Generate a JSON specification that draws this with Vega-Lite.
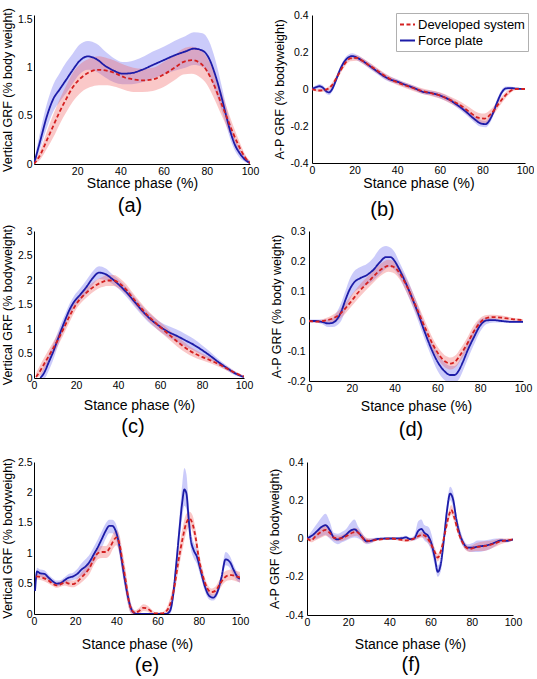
{
"$schema": "https://vega.github.io/schema/vega-lite/v6.json",
"background": "white",
"padding": {"left": 1, "top": 7, "right": 0, "bottom": 0},
"datasets": {
"a": [
{"s":"F","x":0,"y":0,"lo":0,"hi":0.02},{"s":"F","x":3,"y":0.25,"lo":0.17,"hi":0.35},{"s":"F","x":6,"y":0.5,"lo":0.38,"hi":0.63},{"s":"F","x":9,"y":0.68,"lo":0.55,"hi":0.83},{"s":"F","x":12,"y":0.78,"lo":0.65,"hi":0.95},{"s":"F","x":15,"y":0.88,"lo":0.74,"hi":1.06},{"s":"F","x":18,"y":0.98,"lo":0.84,"hi":1.15},{"s":"F","x":21,"y":1.07,"lo":0.93,"hi":1.24},{"s":"F","x":25,"y":1.12,"lo":0.98,"hi":1.28},{"s":"F","x":29,"y":1.09,"lo":0.96,"hi":1.25},{"s":"F","x":33,"y":1.02,"lo":0.9,"hi":1.17},{"s":"F","x":37,"y":0.97,"lo":0.85,"hi":1.1},{"s":"F","x":41,"y":0.94,"lo":0.83,"hi":1.06},{"s":"F","x":45,"y":0.945,"lo":0.83,"hi":1.07},{"s":"F","x":50,"y":0.98,"lo":0.85,"hi":1.11},{"s":"F","x":55,"y":1.03,"lo":0.89,"hi":1.17},{"s":"F","x":60,"y":1.08,"lo":0.93,"hi":1.22},{"s":"F","x":65,"y":1.13,"lo":0.97,"hi":1.28},{"s":"F","x":70,"y":1.17,"lo":1.0,"hi":1.33},{"s":"F","x":74,"y":1.2,"lo":1.03,"hi":1.37},{"s":"F","x":78,"y":1.18,"lo":1.01,"hi":1.36},{"s":"F","x":81,"y":1.1,"lo":0.93,"hi":1.28},{"s":"F","x":84,"y":0.92,"lo":0.75,"hi":1.08},{"s":"F","x":87,"y":0.68,"lo":0.55,"hi":0.8},{"s":"F","x":89,"y":0.5,"lo":0.4,"hi":0.6},{"s":"F","x":91,"y":0.33,"lo":0.25,"hi":0.42},{"s":"F","x":93,"y":0.2,"lo":0.14,"hi":0.27},{"s":"F","x":95,"y":0.12,"lo":0.07,"hi":0.17},{"s":"F","x":97,"y":0.06,"lo":0.03,"hi":0.1},{"s":"F","x":100,"y":0.01,"lo":0,"hi":0.03},
{"s":"D","x":0,"y":0,"lo":0,"hi":0.02},{"s":"D","x":3,"y":0.1,"lo":0.05,"hi":0.15},{"s":"D","x":6,"y":0.25,"lo":0.16,"hi":0.34},{"s":"D","x":9,"y":0.4,"lo":0.28,"hi":0.52},{"s":"D","x":12,"y":0.55,"lo":0.42,"hi":0.68},{"s":"D","x":15,"y":0.68,"lo":0.54,"hi":0.82},{"s":"D","x":18,"y":0.8,"lo":0.65,"hi":0.95},{"s":"D","x":22,"y":0.9,"lo":0.75,"hi":1.05},{"s":"D","x":26,"y":0.96,"lo":0.8,"hi":1.1},{"s":"D","x":30,"y":0.98,"lo":0.82,"hi":1.12},{"s":"D","x":34,"y":0.97,"lo":0.82,"hi":1.1},{"s":"D","x":38,"y":0.94,"lo":0.8,"hi":1.07},{"s":"D","x":42,"y":0.9,"lo":0.77,"hi":1.03},{"s":"D","x":46,"y":0.88,"lo":0.75,"hi":1.0},{"s":"D","x":50,"y":0.87,"lo":0.75,"hi":0.99},{"s":"D","x":55,"y":0.88,"lo":0.76,"hi":1.0},{"s":"D","x":60,"y":0.93,"lo":0.8,"hi":1.06},{"s":"D","x":65,"y":1.0,"lo":0.87,"hi":1.13},{"s":"D","x":69,"y":1.06,"lo":0.93,"hi":1.2},{"s":"D","x":73,"y":1.08,"lo":0.94,"hi":1.22},{"s":"D","x":77,"y":1.05,"lo":0.9,"hi":1.19},{"s":"D","x":80,"y":0.97,"lo":0.83,"hi":1.11},{"s":"D","x":83,"y":0.84,"lo":0.7,"hi":0.98},{"s":"D","x":86,"y":0.67,"lo":0.55,"hi":0.8},{"s":"D","x":89,"y":0.5,"lo":0.4,"hi":0.6},{"s":"D","x":92,"y":0.33,"lo":0.25,"hi":0.41},{"s":"D","x":95,"y":0.18,"lo":0.12,"hi":0.24},{"s":"D","x":98,"y":0.06,"lo":0.03,"hi":0.09},{"s":"D","x":100,"y":0.01,"lo":0,"hi":0.03}
],
"b": [
{"s":"F","x":0,"y":0,"lo":-0.01,"hi":0.01},{"s":"F","x":2,"y":0.01,"lo":0.0,"hi":0.02},{"s":"F","x":3.5,"y":0.015,"lo":0.003,"hi":0.027},{"s":"F","x":5,"y":0.008,"lo":-0.005,"hi":0.02},{"s":"F","x":7,"y":-0.015,"lo":-0.028,"hi":-0.002},{"s":"F","x":8,"y":-0.018,"lo":-0.032,"hi":-0.004},{"s":"F","x":9.5,"y":0,"lo":-0.015,"hi":0.015},{"s":"F","x":11,"y":0.04,"lo":0.025,"hi":0.055},{"s":"F","x":13,"y":0.1,"lo":0.085,"hi":0.115},{"s":"F","x":15,"y":0.145,"lo":0.13,"hi":0.16},{"s":"F","x":17,"y":0.17,"lo":0.155,"hi":0.185},{"s":"F","x":19,"y":0.178,"lo":0.163,"hi":0.193},{"s":"F","x":21,"y":0.17,"lo":0.155,"hi":0.185},{"s":"F","x":24,"y":0.15,"lo":0.135,"hi":0.165},{"s":"F","x":27,"y":0.125,"lo":0.11,"hi":0.14},{"s":"F","x":30,"y":0.1,"lo":0.085,"hi":0.115},{"s":"F","x":33,"y":0.075,"lo":0.06,"hi":0.09},{"s":"F","x":36,"y":0.055,"lo":0.04,"hi":0.07},{"s":"F","x":40,"y":0.04,"lo":0.027,"hi":0.053},{"s":"F","x":44,"y":0.022,"lo":0.01,"hi":0.034},{"s":"F","x":48,"y":0.005,"lo":-0.007,"hi":0.017},{"s":"F","x":52,"y":-0.015,"lo":-0.027,"hi":-0.003},{"s":"F","x":56,"y":-0.022,"lo":-0.035,"hi":-0.01},{"s":"F","x":60,"y":-0.035,"lo":-0.05,"hi":-0.02},{"s":"F","x":64,"y":-0.055,"lo":-0.07,"hi":-0.04},{"s":"F","x":68,"y":-0.085,"lo":-0.1,"hi":-0.07},{"s":"F","x":72,"y":-0.12,"lo":-0.137,"hi":-0.103},{"s":"F","x":76,"y":-0.16,"lo":-0.178,"hi":-0.142},{"s":"F","x":79,"y":-0.185,"lo":-0.203,"hi":-0.167},{"s":"F","x":81.5,"y":-0.19,"lo":-0.207,"hi":-0.173},{"s":"F","x":83,"y":-0.175,"lo":-0.193,"hi":-0.157},{"s":"F","x":85,"y":-0.13,"lo":-0.148,"hi":-0.112},{"s":"F","x":87,"y":-0.07,"lo":-0.088,"hi":-0.052},{"s":"F","x":89,"y":-0.02,"lo":-0.035,"hi":-0.005},{"s":"F","x":91,"y":0.003,"lo":-0.008,"hi":0.014},{"s":"F","x":93,"y":0.005,"lo":-0.003,"hi":0.013},{"s":"F","x":96,"y":0.002,"lo":-0.004,"hi":0.008},{"s":"F","x":100,"y":0,"lo":-0.004,"hi":0.004},
{"s":"D","x":0,"y":0,"lo":-0.005,"hi":0.005},{"s":"D","x":3,"y":-0.008,"lo":-0.015,"hi":0.0},{"s":"D","x":6,"y":-0.005,"lo":-0.013,"hi":0.003},{"s":"D","x":9,"y":0.015,"lo":0.003,"hi":0.027},{"s":"D","x":12,"y":0.07,"lo":0.055,"hi":0.085},{"s":"D","x":15,"y":0.13,"lo":0.115,"hi":0.145},{"s":"D","x":18,"y":0.165,"lo":0.15,"hi":0.18},{"s":"D","x":21,"y":0.168,"lo":0.153,"hi":0.183},{"s":"D","x":24,"y":0.15,"lo":0.135,"hi":0.165},{"s":"D","x":28,"y":0.12,"lo":0.105,"hi":0.135},{"s":"D","x":32,"y":0.088,"lo":0.073,"hi":0.103},{"s":"D","x":36,"y":0.058,"lo":0.043,"hi":0.073},{"s":"D","x":40,"y":0.036,"lo":0.022,"hi":0.05},{"s":"D","x":45,"y":0.015,"lo":0.0,"hi":0.03},{"s":"D","x":50,"y":-0.005,"lo":-0.02,"hi":0.01},{"s":"D","x":55,"y":-0.02,"lo":-0.035,"hi":-0.005},{"s":"D","x":60,"y":-0.035,"lo":-0.052,"hi":-0.018},{"s":"D","x":65,"y":-0.06,"lo":-0.078,"hi":-0.042},{"s":"D","x":70,"y":-0.09,"lo":-0.11,"hi":-0.07},{"s":"D","x":74,"y":-0.125,"lo":-0.15,"hi":-0.1},{"s":"D","x":78,"y":-0.155,"lo":-0.182,"hi":-0.128},{"s":"D","x":81,"y":-0.16,"lo":-0.187,"hi":-0.133},{"s":"D","x":84,"y":-0.135,"lo":-0.16,"hi":-0.11},{"s":"D","x":87,"y":-0.09,"lo":-0.11,"hi":-0.07},{"s":"D","x":90,"y":-0.045,"lo":-0.062,"hi":-0.028},{"s":"D","x":93,"y":-0.012,"lo":-0.024,"hi":0.0},{"s":"D","x":96,"y":0,"lo":-0.006,"hi":0.006},{"s":"D","x":100,"y":0,"lo":-0.004,"hi":0.004}
],
"c": [
{"s":"F","x":3,"y":0,"lo":0,"hi":0.05},{"s":"F","x":5,"y":0.12,"lo":0,"hi":0.25},{"s":"F","x":7,"y":0.32,"lo":0.15,"hi":0.48},{"s":"F","x":9,"y":0.52,"lo":0.35,"hi":0.68},{"s":"F","x":11,"y":0.75,"lo":0.6,"hi":0.9},{"s":"F","x":13,"y":0.98,"lo":0.85,"hi":1.12},{"s":"F","x":15,"y":1.2,"lo":1.08,"hi":1.32},{"s":"F","x":17,"y":1.4,"lo":1.28,"hi":1.52},{"s":"F","x":19,"y":1.55,"lo":1.43,"hi":1.67},{"s":"F","x":22,"y":1.7,"lo":1.58,"hi":1.83},{"s":"F","x":25,"y":1.86,"lo":1.73,"hi":2.0},{"s":"F","x":28,"y":2.04,"lo":1.9,"hi":2.18},{"s":"F","x":31,"y":2.15,"lo":2.02,"hi":2.28},{"s":"F","x":34,"y":2.12,"lo":2.0,"hi":2.24},{"s":"F","x":37,"y":2.03,"lo":1.93,"hi":2.13},{"s":"F","x":40,"y":1.92,"lo":1.83,"hi":2.02},{"s":"F","x":44,"y":1.75,"lo":1.66,"hi":1.85},{"s":"F","x":48,"y":1.55,"lo":1.45,"hi":1.65},{"s":"F","x":52,"y":1.35,"lo":1.25,"hi":1.45},{"s":"F","x":56,"y":1.18,"lo":1.08,"hi":1.28},{"s":"F","x":60,"y":1.05,"lo":0.95,"hi":1.15},{"s":"F","x":64,"y":0.94,"lo":0.83,"hi":1.06},{"s":"F","x":68,"y":0.86,"lo":0.74,"hi":0.99},{"s":"F","x":72,"y":0.77,"lo":0.65,"hi":0.9},{"s":"F","x":76,"y":0.68,"lo":0.56,"hi":0.8},{"s":"F","x":80,"y":0.57,"lo":0.47,"hi":0.67},{"s":"F","x":84,"y":0.45,"lo":0.37,"hi":0.53},{"s":"F","x":88,"y":0.32,"lo":0.26,"hi":0.38},{"s":"F","x":92,"y":0.2,"lo":0.15,"hi":0.25},{"s":"F","x":96,"y":0.09,"lo":0.05,"hi":0.13},{"s":"F","x":100,"y":0.02,"lo":0,"hi":0.04},
{"s":"D","x":1,"y":0.02,"lo":0,"hi":0.1},{"s":"D","x":3,"y":0.15,"lo":0.05,"hi":0.27},{"s":"D","x":5,"y":0.3,"lo":0.18,"hi":0.43},{"s":"D","x":8,"y":0.52,"lo":0.4,"hi":0.65},{"s":"D","x":11,"y":0.75,"lo":0.63,"hi":0.88},{"s":"D","x":14,"y":1.0,"lo":0.88,"hi":1.12},{"s":"D","x":17,"y":1.27,"lo":1.15,"hi":1.38},{"s":"D","x":20,"y":1.5,"lo":1.4,"hi":1.6},{"s":"D","x":23,"y":1.66,"lo":1.56,"hi":1.76},{"s":"D","x":26,"y":1.78,"lo":1.68,"hi":1.88},{"s":"D","x":29,"y":1.88,"lo":1.78,"hi":1.98},{"s":"D","x":32,"y":1.95,"lo":1.85,"hi":2.05},{"s":"D","x":35,"y":1.99,"lo":1.88,"hi":2.1},{"s":"D","x":38,"y":1.99,"lo":1.88,"hi":2.1},{"s":"D","x":41,"y":1.92,"lo":1.81,"hi":2.03},{"s":"D","x":44,"y":1.8,"lo":1.7,"hi":1.91},{"s":"D","x":47,"y":1.64,"lo":1.54,"hi":1.74},{"s":"D","x":50,"y":1.48,"lo":1.38,"hi":1.58},{"s":"D","x":53,"y":1.33,"lo":1.23,"hi":1.43},{"s":"D","x":56,"y":1.2,"lo":1.1,"hi":1.3},{"s":"D","x":59,"y":1.08,"lo":0.98,"hi":1.18},{"s":"D","x":62,"y":0.97,"lo":0.87,"hi":1.07},{"s":"D","x":65,"y":0.86,"lo":0.76,"hi":0.96},{"s":"D","x":68,"y":0.75,"lo":0.65,"hi":0.85},{"s":"D","x":71,"y":0.65,"lo":0.55,"hi":0.75},{"s":"D","x":74,"y":0.56,"lo":0.47,"hi":0.65},{"s":"D","x":77,"y":0.49,"lo":0.41,"hi":0.57},{"s":"D","x":80,"y":0.43,"lo":0.36,"hi":0.5},{"s":"D","x":84,"y":0.36,"lo":0.3,"hi":0.42},{"s":"D","x":88,"y":0.28,"lo":0.23,"hi":0.33},{"s":"D","x":92,"y":0.19,"lo":0.15,"hi":0.23},{"s":"D","x":96,"y":0.1,"lo":0.07,"hi":0.13},{"s":"D","x":100,"y":0.03,"lo":0.01,"hi":0.05}
],
"d": [
{"s":"F","x":0,"y":0,"lo":-0.005,"hi":0.005},{"s":"F","x":3,"y":0,"lo":-0.005,"hi":0.005},{"s":"F","x":6,"y":-0.003,"lo":-0.01,"hi":0.005},{"s":"F","x":9,"y":-0.008,"lo":-0.02,"hi":0.005},{"s":"F","x":11,"y":-0.006,"lo":-0.02,"hi":0.01},{"s":"F","x":13,"y":0.005,"lo":-0.015,"hi":0.03},{"s":"F","x":15,"y":0.03,"lo":0.0,"hi":0.06},{"s":"F","x":17,"y":0.07,"lo":0.035,"hi":0.1},{"s":"F","x":19,"y":0.105,"lo":0.07,"hi":0.14},{"s":"F","x":21,"y":0.128,"lo":0.095,"hi":0.165},{"s":"F","x":24,"y":0.143,"lo":0.11,"hi":0.18},{"s":"F","x":27,"y":0.153,"lo":0.12,"hi":0.19},{"s":"F","x":30,"y":0.17,"lo":0.135,"hi":0.21},{"s":"F","x":33,"y":0.195,"lo":0.155,"hi":0.24},{"s":"F","x":36,"y":0.213,"lo":0.175,"hi":0.25},{"s":"F","x":38,"y":0.213,"lo":0.18,"hi":0.245},{"s":"F","x":40,"y":0.2,"lo":0.17,"hi":0.23},{"s":"F","x":42,"y":0.175,"lo":0.15,"hi":0.2},{"s":"F","x":45,"y":0.13,"lo":0.105,"hi":0.155},{"s":"F","x":48,"y":0.08,"lo":0.055,"hi":0.105},{"s":"F","x":51,"y":0.025,"lo":0.0,"hi":0.05},{"s":"F","x":54,"y":-0.035,"lo":-0.06,"hi":-0.01},{"s":"F","x":57,"y":-0.09,"lo":-0.115,"hi":-0.065},{"s":"F","x":60,"y":-0.135,"lo":-0.165,"hi":-0.105},{"s":"F","x":63,"y":-0.165,"lo":-0.195,"hi":-0.135},{"s":"F","x":66,"y":-0.18,"lo":-0.205,"hi":-0.15},{"s":"F","x":68,"y":-0.18,"lo":-0.205,"hi":-0.15},{"s":"F","x":70,"y":-0.165,"lo":-0.195,"hi":-0.135},{"s":"F","x":72,"y":-0.135,"lo":-0.165,"hi":-0.105},{"s":"F","x":74,"y":-0.1,"lo":-0.13,"hi":-0.07},{"s":"F","x":77,"y":-0.055,"lo":-0.08,"hi":-0.03},{"s":"F","x":80,"y":-0.015,"lo":-0.035,"hi":0.005},{"s":"F","x":83,"y":0.002,"lo":-0.01,"hi":0.012},{"s":"F","x":86,"y":0.003,"lo":-0.005,"hi":0.01},{"s":"F","x":90,"y":0.0,"lo":-0.005,"hi":0.005},{"s":"F","x":95,"y":-0.003,"lo":-0.007,"hi":0.002},{"s":"F","x":100,"y":-0.003,"lo":-0.007,"hi":0.002},
{"s":"D","x":0,"y":0,"lo":-0.003,"hi":0.003},{"s":"D","x":4,"y":-0.002,"lo":-0.006,"hi":0.003},{"s":"D","x":8,"y":0.002,"lo":-0.005,"hi":0.01},{"s":"D","x":11,"y":0.008,"lo":-0.005,"hi":0.02},{"s":"D","x":14,"y":0.02,"lo":0.005,"hi":0.035},{"s":"D","x":17,"y":0.042,"lo":0.025,"hi":0.06},{"s":"D","x":20,"y":0.068,"lo":0.05,"hi":0.088},{"s":"D","x":23,"y":0.095,"lo":0.075,"hi":0.115},{"s":"D","x":26,"y":0.118,"lo":0.098,"hi":0.138},{"s":"D","x":29,"y":0.14,"lo":0.12,"hi":0.16},{"s":"D","x":32,"y":0.162,"lo":0.142,"hi":0.182},{"s":"D","x":35,"y":0.178,"lo":0.158,"hi":0.198},{"s":"D","x":37,"y":0.184,"lo":0.164,"hi":0.204},{"s":"D","x":39,"y":0.182,"lo":0.162,"hi":0.202},{"s":"D","x":41,"y":0.172,"lo":0.152,"hi":0.192},{"s":"D","x":43,"y":0.152,"lo":0.132,"hi":0.172},{"s":"D","x":46,"y":0.112,"lo":0.09,"hi":0.134},{"s":"D","x":49,"y":0.065,"lo":0.043,"hi":0.087},{"s":"D","x":52,"y":0.015,"lo":-0.007,"hi":0.037},{"s":"D","x":55,"y":-0.035,"lo":-0.057,"hi":-0.013},{"s":"D","x":58,"y":-0.08,"lo":-0.1,"hi":-0.06},{"s":"D","x":61,"y":-0.115,"lo":-0.135,"hi":-0.095},{"s":"D","x":64,"y":-0.137,"lo":-0.157,"hi":-0.117},{"s":"D","x":66,"y":-0.142,"lo":-0.162,"hi":-0.122},{"s":"D","x":68,"y":-0.137,"lo":-0.157,"hi":-0.117},{"s":"D","x":71,"y":-0.11,"lo":-0.13,"hi":-0.09},{"s":"D","x":74,"y":-0.075,"lo":-0.095,"hi":-0.055},{"s":"D","x":77,"y":-0.035,"lo":-0.055,"hi":-0.015},{"s":"D","x":80,"y":-0.005,"lo":-0.02,"hi":0.01},{"s":"D","x":83,"y":0.01,"lo":0.0,"hi":0.02},{"s":"D","x":86,"y":0.013,"lo":0.005,"hi":0.021},{"s":"D","x":90,"y":0.011,"lo":0.004,"hi":0.018},{"s":"D","x":95,"y":0.006,"lo":0.001,"hi":0.011},{"s":"D","x":100,"y":0.003,"lo":0.0,"hi":0.006}
],
"e": [
{"s":"F","x":0.5,"y":0.38,"lo":0.32,"hi":0.44},{"s":"F","x":1.5,"y":0.7,"lo":0.64,"hi":0.76},{"s":"F","x":3,"y":0.67,"lo":0.61,"hi":0.73},{"s":"F","x":5,"y":0.66,"lo":0.6,"hi":0.72},{"s":"F","x":7,"y":0.6,"lo":0.55,"hi":0.65},{"s":"F","x":9,"y":0.54,"lo":0.5,"hi":0.59},{"s":"F","x":11,"y":0.5,"lo":0.46,"hi":0.55},{"s":"F","x":13,"y":0.51,"lo":0.47,"hi":0.56},{"s":"F","x":15,"y":0.56,"lo":0.51,"hi":0.61},{"s":"F","x":17,"y":0.6,"lo":0.54,"hi":0.66},{"s":"F","x":19,"y":0.62,"lo":0.56,"hi":0.68},{"s":"F","x":21,"y":0.66,"lo":0.58,"hi":0.74},{"s":"F","x":23,"y":0.73,"lo":0.63,"hi":0.83},{"s":"F","x":25,"y":0.78,"lo":0.67,"hi":0.9},{"s":"F","x":27,"y":0.86,"lo":0.74,"hi":0.98},{"s":"F","x":29,"y":0.98,"lo":0.85,"hi":1.1},{"s":"F","x":31,"y":1.1,"lo":0.98,"hi":1.23},{"s":"F","x":33,"y":1.24,"lo":1.1,"hi":1.37},{"s":"F","x":35,"y":1.38,"lo":1.25,"hi":1.5},{"s":"F","x":36.5,"y":1.45,"lo":1.33,"hi":1.55},{"s":"F","x":38,"y":1.45,"lo":1.33,"hi":1.55},{"s":"F","x":39.5,"y":1.38,"lo":1.26,"hi":1.5},{"s":"F","x":41,"y":1.2,"lo":1.06,"hi":1.34},{"s":"F","x":42.5,"y":0.9,"lo":0.75,"hi":1.05},{"s":"F","x":44,"y":0.58,"lo":0.44,"hi":0.72},{"s":"F","x":45.5,"y":0.3,"lo":0.18,"hi":0.42},{"s":"F","x":47,"y":0.1,"lo":0.02,"hi":0.18},{"s":"F","x":48.5,"y":0.02,"lo":0,"hi":0.06},{"s":"F","x":50,"y":0,"lo":0,"hi":0.02},{"s":"F","x":55,"y":0,"lo":0,"hi":0.01},{"s":"F","x":60,"y":0,"lo":0,"hi":0.01},{"s":"F","x":64,"y":0,"lo":0,"hi":0.01},{"s":"F","x":66,"y":0.05,"lo":0,"hi":0.1},{"s":"F","x":67.5,"y":0.3,"lo":0.18,"hi":0.42},{"s":"F","x":69,"y":0.8,"lo":0.65,"hi":0.95},{"s":"F","x":70.5,"y":1.35,"lo":1.15,"hi":1.55},{"s":"F","x":72,"y":1.85,"lo":1.6,"hi":2.15},{"s":"F","x":73,"y":2.05,"lo":1.78,"hi":2.4},{"s":"F","x":74,"y":1.98,"lo":1.72,"hi":2.3},{"s":"F","x":75,"y":1.6,"lo":1.4,"hi":1.85},{"s":"F","x":76,"y":1.25,"lo":1.1,"hi":1.42},{"s":"F","x":77.5,"y":1.05,"lo":0.92,"hi":1.18},{"s":"F","x":79,"y":0.95,"lo":0.83,"hi":1.07},{"s":"F","x":81,"y":0.7,"lo":0.6,"hi":0.8},{"s":"F","x":83,"y":0.45,"lo":0.37,"hi":0.53},{"s":"F","x":85,"y":0.3,"lo":0.24,"hi":0.36},{"s":"F","x":87,"y":0.27,"lo":0.22,"hi":0.32},{"s":"F","x":89,"y":0.36,"lo":0.3,"hi":0.42},{"s":"F","x":91,"y":0.6,"lo":0.52,"hi":0.68},{"s":"F","x":93,"y":0.9,"lo":0.8,"hi":1.02},{"s":"F","x":95,"y":0.86,"lo":0.76,"hi":0.96},{"s":"F","x":97,"y":0.72,"lo":0.63,"hi":0.8},{"s":"F","x":99,"y":0.6,"lo":0.53,"hi":0.67},{"s":"F","x":100,"y":0.58,"lo":0.52,"hi":0.64},
{"s":"D","x":1,"y":0.62,"lo":0.57,"hi":0.67},{"s":"D","x":4,"y":0.6,"lo":0.55,"hi":0.65},{"s":"D","x":7,"y":0.55,"lo":0.5,"hi":0.6},{"s":"D","x":9,"y":0.5,"lo":0.46,"hi":0.55},{"s":"D","x":11,"y":0.47,"lo":0.43,"hi":0.52},{"s":"D","x":13,"y":0.49,"lo":0.45,"hi":0.54},{"s":"D","x":15,"y":0.52,"lo":0.47,"hi":0.57},{"s":"D","x":17,"y":0.5,"lo":0.45,"hi":0.55},{"s":"D","x":19,"y":0.49,"lo":0.44,"hi":0.55},{"s":"D","x":21,"y":0.53,"lo":0.47,"hi":0.59},{"s":"D","x":23,"y":0.6,"lo":0.52,"hi":0.68},{"s":"D","x":25,"y":0.67,"lo":0.58,"hi":0.76},{"s":"D","x":27,"y":0.76,"lo":0.66,"hi":0.86},{"s":"D","x":29,"y":0.9,"lo":0.8,"hi":1.0},{"s":"D","x":31,"y":1.0,"lo":0.9,"hi":1.1},{"s":"D","x":33,"y":1.02,"lo":0.92,"hi":1.12},{"s":"D","x":35,"y":1.02,"lo":0.92,"hi":1.12},{"s":"D","x":37,"y":1.1,"lo":0.98,"hi":1.22},{"s":"D","x":38.5,"y":1.2,"lo":1.08,"hi":1.33},{"s":"D","x":40,"y":1.26,"lo":1.13,"hi":1.38},{"s":"D","x":41.5,"y":1.15,"lo":1.0,"hi":1.3},{"s":"D","x":43,"y":0.85,"lo":0.68,"hi":1.02},{"s":"D","x":44.5,"y":0.55,"lo":0.38,"hi":0.72},{"s":"D","x":46,"y":0.22,"lo":0.1,"hi":0.35},{"s":"D","x":47.5,"y":0.06,"lo":0.0,"hi":0.13},{"s":"D","x":49,"y":0.02,"lo":0,"hi":0.06},{"s":"D","x":51,"y":0.05,"lo":0,"hi":0.1},{"s":"D","x":53,"y":0.1,"lo":0.05,"hi":0.16},{"s":"D","x":55,"y":0.09,"lo":0.04,"hi":0.14},{"s":"D","x":57,"y":0.04,"lo":0.0,"hi":0.08},{"s":"D","x":59,"y":0.01,"lo":0,"hi":0.03},{"s":"D","x":62,"y":0.01,"lo":0,"hi":0.03},{"s":"D","x":64,"y":0.04,"lo":0,"hi":0.08},{"s":"D","x":66,"y":0.15,"lo":0.05,"hi":0.25},{"s":"D","x":68,"y":0.42,"lo":0.3,"hi":0.55},{"s":"D","x":70,"y":0.85,"lo":0.7,"hi":1.0},{"s":"D","x":72,"y":1.22,"lo":1.05,"hi":1.4},{"s":"D","x":74,"y":1.5,"lo":1.35,"hi":1.65},{"s":"D","x":75.5,"y":1.57,"lo":1.43,"hi":1.68},{"s":"D","x":77,"y":1.48,"lo":1.35,"hi":1.62},{"s":"D","x":78.5,"y":1.25,"lo":1.12,"hi":1.38},{"s":"D","x":80,"y":0.92,"lo":0.8,"hi":1.04},{"s":"D","x":82,"y":0.62,"lo":0.52,"hi":0.72},{"s":"D","x":84,"y":0.43,"lo":0.36,"hi":0.5},{"s":"D","x":86,"y":0.36,"lo":0.3,"hi":0.42},{"s":"D","x":88,"y":0.38,"lo":0.32,"hi":0.45},{"s":"D","x":90,"y":0.48,"lo":0.4,"hi":0.56},{"s":"D","x":92,"y":0.58,"lo":0.5,"hi":0.68},{"s":"D","x":94,"y":0.63,"lo":0.55,"hi":0.72},{"s":"D","x":96,"y":0.64,"lo":0.56,"hi":0.73},{"s":"D","x":98,"y":0.62,"lo":0.54,"hi":0.71},{"s":"D","x":100,"y":0.6,"lo":0.52,"hi":0.69}
],
"f": [
{"s":"F","x":0,"y":0,"lo":-0.005,"hi":0.005},{"s":"F","x":3,"y":0.02,"lo":-0.005,"hi":0.05},{"s":"F","x":5,"y":0.04,"lo":0.0,"hi":0.08},{"s":"F","x":7,"y":0.06,"lo":0.01,"hi":0.11},{"s":"F","x":9,"y":0.07,"lo":0.02,"hi":0.13},{"s":"F","x":11,"y":0.045,"lo":0.0,"hi":0.09},{"s":"F","x":13,"y":0.005,"lo":-0.02,"hi":0.03},{"s":"F","x":15,"y":-0.005,"lo":-0.03,"hi":0.025},{"s":"F","x":17,"y":0.005,"lo":-0.02,"hi":0.035},{"s":"F","x":19,"y":0.02,"lo":-0.01,"hi":0.05},{"s":"F","x":21,"y":0.04,"lo":0.0,"hi":0.08},{"s":"F","x":23,"y":0.048,"lo":0.005,"hi":0.1},{"s":"F","x":25,"y":0.03,"lo":0.0,"hi":0.06},{"s":"F","x":27,"y":0.005,"lo":-0.015,"hi":0.025},{"s":"F","x":29,"y":-0.015,"lo":-0.03,"hi":0.0},{"s":"F","x":31,"y":-0.012,"lo":-0.025,"hi":0.0},{"s":"F","x":34,"y":-0.003,"lo":-0.01,"hi":0.005},{"s":"F","x":38,"y":0.0,"lo":-0.005,"hi":0.005},{"s":"F","x":42,"y":0.0,"lo":-0.005,"hi":0.005},{"s":"F","x":46,"y":0.002,"lo":-0.005,"hi":0.01},{"s":"F","x":48,"y":0.006,"lo":-0.002,"hi":0.015},{"s":"F","x":50,"y":-0.003,"lo":-0.01,"hi":0.005},{"s":"F","x":52,"y":0.0,"lo":-0.01,"hi":0.015},{"s":"F","x":54,"y":0.04,"lo":0.0,"hi":0.09},{"s":"F","x":55.5,"y":0.05,"lo":0.01,"hi":0.1},{"s":"F","x":57,"y":0.03,"lo":-0.01,"hi":0.07},{"s":"F","x":59,"y":0.01,"lo":-0.03,"hi":0.06},{"s":"F","x":60.5,"y":-0.03,"lo":-0.07,"hi":0.02},{"s":"F","x":62,"y":-0.1,"lo":-0.14,"hi":-0.06},{"s":"F","x":63.5,"y":-0.175,"lo":-0.2,"hi":-0.14},{"s":"F","x":65,"y":-0.13,"lo":-0.17,"hi":-0.09},{"s":"F","x":66.5,"y":0.0,"lo":-0.04,"hi":0.04},{"s":"F","x":68,"y":0.15,"lo":0.11,"hi":0.19},{"s":"F","x":69.5,"y":0.235,"lo":0.2,"hi":0.27},{"s":"F","x":71,"y":0.2,"lo":0.16,"hi":0.24},{"s":"F","x":72.5,"y":0.1,"lo":0.07,"hi":0.13},{"s":"F","x":74,"y":0.03,"lo":0.0,"hi":0.06},{"s":"F","x":76,"y":-0.025,"lo":-0.045,"hi":-0.005},{"s":"F","x":78,"y":-0.048,"lo":-0.065,"hi":-0.03},{"s":"F","x":80,"y":-0.048,"lo":-0.07,"hi":-0.025},{"s":"F","x":83,"y":-0.042,"lo":-0.07,"hi":-0.01},{"s":"F","x":86,"y":-0.038,"lo":-0.065,"hi":-0.01},{"s":"F","x":89,"y":-0.03,"lo":-0.055,"hi":-0.005},{"s":"F","x":92,"y":-0.018,"lo":-0.035,"hi":0.0},{"s":"F","x":94,"y":-0.01,"lo":-0.02,"hi":0.0},{"s":"F","x":97,"y":-0.012,"lo":-0.02,"hi":-0.004},{"s":"F","x":100,"y":-0.005,"lo":-0.01,"hi":0.0},
{"s":"D","x":0,"y":0,"lo":-0.005,"hi":0.005},{"s":"D","x":2,"y":-0.01,"lo":-0.02,"hi":0.0},{"s":"D","x":4,"y":0.01,"lo":-0.01,"hi":0.03},{"s":"D","x":7,"y":0.035,"lo":0.005,"hi":0.065},{"s":"D","x":9,"y":0.045,"lo":0.015,"hi":0.075},{"s":"D","x":11,"y":0.03,"lo":0.005,"hi":0.055},{"s":"D","x":13,"y":0.005,"lo":-0.01,"hi":0.02},{"s":"D","x":16,"y":0.0,"lo":-0.015,"hi":0.015},{"s":"D","x":19,"y":0.012,"lo":-0.005,"hi":0.03},{"s":"D","x":22,"y":0.03,"lo":0.01,"hi":0.05},{"s":"D","x":24,"y":0.035,"lo":0.015,"hi":0.055},{"s":"D","x":26,"y":0.018,"lo":0.0,"hi":0.035},{"s":"D","x":28,"y":-0.008,"lo":-0.025,"hi":0.01},{"s":"D","x":30,"y":-0.012,"lo":-0.025,"hi":0.0},{"s":"D","x":33,"y":-0.008,"lo":-0.015,"hi":0.0},{"s":"D","x":37,"y":-0.003,"lo":-0.008,"hi":0.002},{"s":"D","x":41,"y":0.0,"lo":-0.005,"hi":0.005},{"s":"D","x":45,"y":-0.006,"lo":-0.012,"hi":0.0},{"s":"D","x":48,"y":-0.01,"lo":-0.018,"hi":-0.002},{"s":"D","x":51,"y":-0.005,"lo":-0.013,"hi":0.003},{"s":"D","x":54,"y":0.012,"lo":0.0,"hi":0.025},{"s":"D","x":56,"y":0.02,"lo":0.005,"hi":0.035},{"s":"D","x":58,"y":0.008,"lo":-0.01,"hi":0.025},{"s":"D","x":60,"y":-0.025,"lo":-0.045,"hi":-0.005},{"s":"D","x":62,"y":-0.07,"lo":-0.09,"hi":-0.05},{"s":"D","x":63.5,"y":-0.1,"lo":-0.12,"hi":-0.08},{"s":"D","x":65,"y":-0.065,"lo":-0.085,"hi":-0.045},{"s":"D","x":67,"y":0.03,"lo":0.01,"hi":0.05},{"s":"D","x":69,"y":0.125,"lo":0.1,"hi":0.15},{"s":"D","x":70,"y":0.15,"lo":0.125,"hi":0.175},{"s":"D","x":71.5,"y":0.11,"lo":0.085,"hi":0.135},{"s":"D","x":73,"y":0.05,"lo":0.03,"hi":0.07},{"s":"D","x":75,"y":-0.01,"lo":-0.025,"hi":0.005},{"s":"D","x":77,"y":-0.045,"lo":-0.06,"hi":-0.03},{"s":"D","x":79,"y":-0.055,"lo":-0.07,"hi":-0.04},{"s":"D","x":82,"y":-0.045,"lo":-0.065,"hi":-0.025},{"s":"D","x":86,"y":-0.04,"lo":-0.065,"hi":-0.015},{"s":"D","x":90,"y":-0.03,"lo":-0.05,"hi":-0.01},{"s":"D","x":94,"y":-0.015,"lo":-0.03,"hi":0.0},{"s":"D","x":97,"y":-0.01,"lo":-0.02,"hi":0.0},{"s":"D","x":100,"y":-0.005,"lo":-0.012,"hi":0.002}
]
},
"spacing": 17,
"resolve": {"legend": {"stroke": "independent", "strokeDash": "independent"}},
"vconcat": [
{"spacing": 4,
 "resolve": {"legend": {"stroke": "independent", "strokeDash": "independent"}},
 "vconcat": [
{"hconcat": [
{"width": 216, "height": 149, "data": {"name": "a"},
 "title": {"text": "(a)", "dx": -12, "offset": 5},
 "layer": [
 {"mark": {"type": "area", "interpolate": "monotone", "opacity": 0.35, "clip": true},
  "encoding": {
   "x": {"field": "x", "type": "quantitative", "scale": {"domain": [0, 100], "nice": false}, "axis": {"title": "Stance phase (%)", "values": [20, 40, 60, 80, 100], "titlePadding": 0}},
   "y": {"field": "lo", "type": "quantitative", "scale": {"domain": [0, 1.55], "nice": false}, "axis": {"title": "Vertical GRF (% body weight)", "values": [0, 0.5, 1, 1.5]}},
   "y2": {"field": "hi"},
   "fill": {"field": "s", "type": "nominal", "scale": {"domain": ["D", "F"], "range": ["#f06060", "#6a6af0"]}, "legend": null}}},
 {"mark": {"type": "line", "interpolate": "monotone", "strokeWidth": 1.8, "clip": true},
  "encoding": {
   "x": {"field": "x", "type": "quantitative", "scale": {"domain": [0, 100], "nice": false}, "axis": {"title": "Stance phase (%)", "values": [20, 40, 60, 80, 100], "titlePadding": 0}},
   "y": {"field": "y", "type": "quantitative", "scale": {"domain": [0, 1.55], "nice": false}, "axis": {"title": "Vertical GRF (% body weight)", "values": [0, 0.5, 1, 1.5]}},
   "stroke": {"field": "s", "type": "nominal", "scale": {"domain": ["D", "F"], "range": ["#d42020", "#1c1ca8"]}, "legend": null},
   "strokeDash": {"field": "s", "type": "nominal", "scale": {"domain": ["D", "F"], "range": [[4, 2.5], [1, 0]]}, "legend": null}}}
 ]},
{"width": 213, "height": 148, "data": {"name": "b"},
 "title": {"text": "(b)", "dx": -36, "offset": 9},
 "layer": [
 {"mark": {"type": "area", "interpolate": "monotone", "opacity": 0.35, "clip": true},
  "encoding": {
   "x": {"field": "x", "type": "quantitative", "scale": {"domain": [0, 100], "nice": false}, "axis": {"title": "Stance phase (%)", "values": [0, 20, 40, 60, 80, 100], "titlePadding": 1}},
   "y": {"field": "lo", "type": "quantitative", "scale": {"domain": [-0.4, 0.4], "nice": false}, "axis": {"title": "A-P GRF (% bodyweight)", "values": [-0.4, -0.2, 0, 0.2, 0.4], "labelPadding": 4}},
   "y2": {"field": "hi"},
   "fill": {"field": "s", "type": "nominal", "scale": {"domain": ["D", "F"], "range": ["#f06060", "#6a6af0"]}, "legend": null}}},
 {"mark": {"type": "line", "interpolate": "monotone", "strokeWidth": 1.8, "clip": true},
  "encoding": {
   "x": {"field": "x", "type": "quantitative", "scale": {"domain": [0, 100], "nice": false}, "axis": {"title": "Stance phase (%)", "values": [0, 20, 40, 60, 80, 100], "titlePadding": 1}},
   "y": {"field": "y", "type": "quantitative", "scale": {"domain": [-0.4, 0.4], "nice": false}, "axis": {"title": "A-P GRF (% bodyweight)", "values": [-0.4, -0.2, 0, 0.2, 0.4], "labelPadding": 4}},
   "stroke": {"field": "s", "type": "nominal", "scale": {"domain": ["D", "F"], "range": ["#d42020", "#1c1ca8"]},
     "legend": {"title": null, "orient": "none", "legendX": 84, "legendY": -2, "symbolType": "stroke", "symbolSize": 225, "symbolStrokeWidth": 1.8, "labelFontSize": 13, "labelFont": "Liberation Sans", "labelColor": "#000", "labelOffset": 2, "padding": 3, "rowPadding": 0, "strokeColor": "#b0b0b0", "fillColor": "white", "labelExpr": "datum.label == 'D' ? 'Developed system' : 'Force plate'"}},
   "strokeDash": {"field": "s", "type": "nominal", "scale": {"domain": ["D", "F"], "range": [[4, 2.5], [1, 0]]},
     "legend": {"title": null, "orient": "none", "legendX": 84, "legendY": -2, "symbolType": "stroke", "symbolSize": 225, "symbolStrokeWidth": 1.8, "labelFontSize": 13, "labelFont": "Liberation Sans", "labelColor": "#000", "labelOffset": 2, "padding": 3, "rowPadding": 0, "strokeColor": "#b0b0b0", "fillColor": "white", "labelExpr": "datum.label == 'D' ? 'Developed system' : 'Force plate'"}}}}
 ]}
], "spacing": 14, "resolve": {"legend": {"stroke": "independent", "strokeDash": "independent"}}},
{"hconcat": [
{"width": 210, "height": 147, "data": {"name": "c"},
 "title": {"text": "(c)", "dx": -6, "offset": 4},
 "layer": [
 {"mark": {"type": "area", "interpolate": "monotone", "opacity": 0.35, "clip": true},
  "encoding": {
   "x": {"field": "x", "type": "quantitative", "scale": {"domain": [0, 100], "nice": false}, "axis": {"title": "Stance phase (%)", "values": [0, 20, 40, 60, 80, 100], "titlePadding": 8}},
   "y": {"field": "lo", "type": "quantitative", "scale": {"domain": [0, 3], "nice": false}, "axis": {"title": "Vertical GRF (% bodyweight)", "values": [0, 0.5, 1, 1.5, 2, 2.5, 3]}},
   "y2": {"field": "hi"},
   "fill": {"field": "s", "type": "nominal", "scale": {"domain": ["D", "F"], "range": ["#f06060", "#6a6af0"]}, "legend": null}}},
 {"mark": {"type": "line", "interpolate": "monotone", "strokeWidth": 1.8, "clip": true},
  "encoding": {
   "x": {"field": "x", "type": "quantitative", "scale": {"domain": [0, 100], "nice": false}, "axis": {"title": "Stance phase (%)", "values": [0, 20, 40, 60, 80, 100], "titlePadding": 8}},
   "y": {"field": "y", "type": "quantitative", "scale": {"domain": [0, 3], "nice": false}, "axis": {"title": "Vertical GRF (% bodyweight)", "values": [0, 0.5, 1, 1.5, 2, 2.5, 3]}},
   "stroke": {"field": "s", "type": "nominal", "scale": {"domain": ["D", "F"], "range": ["#d42020", "#1c1ca8"]}, "legend": null},
   "strokeDash": {"field": "s", "type": "nominal", "scale": {"domain": ["D", "F"], "range": [[4, 2.5], [1, 0]]}, "legend": null}}}
 ]},
{"width": 214, "height": 150, "data": {"name": "d"},
 "title": {"text": "(d)", "dx": -5, "offset": 6},
 "layer": [
 {"mark": {"type": "area", "interpolate": "monotone", "opacity": 0.35, "clip": true},
  "encoding": {
   "x": {"field": "x", "type": "quantitative", "scale": {"domain": [0, 100], "nice": false}, "axis": {"title": "Stance phase (%)", "values": [0, 20, 40, 60, 80, 100], "titlePadding": 6}},
   "y": {"field": "lo", "type": "quantitative", "scale": {"domain": [-0.2, 0.3], "nice": false}, "axis": {"title": "A-P GRF (% body weight)", "values": [-0.2, -0.1, 0, 0.1, 0.2, 0.3], "labelPadding": 4}},
   "y2": {"field": "hi"},
   "fill": {"field": "s", "type": "nominal", "scale": {"domain": ["D", "F"], "range": ["#f06060", "#6a6af0"]}, "legend": null}}},
 {"mark": {"type": "line", "interpolate": "monotone", "strokeWidth": 1.8, "clip": true},
  "encoding": {
   "x": {"field": "x", "type": "quantitative", "scale": {"domain": [0, 100], "nice": false}, "axis": {"title": "Stance phase (%)", "values": [0, 20, 40, 60, 80, 100], "titlePadding": 6}},
   "y": {"field": "y", "type": "quantitative", "scale": {"domain": [-0.2, 0.3], "nice": false}, "axis": {"title": "A-P GRF (% body weight)", "values": [-0.2, -0.1, 0, 0.1, 0.2, 0.3], "labelPadding": 4}},
   "stroke": {"field": "s", "type": "nominal", "scale": {"domain": ["D", "F"], "range": ["#d42020", "#1c1ca8"]}, "legend": null},
   "strokeDash": {"field": "s", "type": "nominal", "scale": {"domain": ["D", "F"], "range": [[4, 2.5], [1, 0]]}, "legend": null}}}
 ]}
], "spacing": 17}
]},
{"hconcat": [
{"width": 206, "height": 152, "data": {"name": "e"},
 "title": {"text": "(e)", "dx": 10, "offset": 4},
 "layer": [
 {"mark": {"type": "area", "interpolate": "monotone", "opacity": 0.35, "clip": true},
  "encoding": {
   "x": {"field": "x", "type": "quantitative", "scale": {"domain": [0, 100], "nice": false}, "axis": {"title": "Stance phase (%)", "values": [0, 20, 40, 60, 80, 100], "titlePadding": 11}},
   "y": {"field": "lo", "type": "quantitative", "scale": {"domain": [0, 2.5], "nice": false}, "axis": {"title": "Vertical GRF (% bodyweight)", "values": [0, 0.5, 1, 1.5, 2, 2.5]}},
   "y2": {"field": "hi"},
   "fill": {"field": "s", "type": "nominal", "scale": {"domain": ["D", "F"], "range": ["#f06060", "#6a6af0"]}, "legend": null}}},
 {"mark": {"type": "line", "interpolate": "monotone", "strokeWidth": 1.8, "clip": true},
  "encoding": {
   "x": {"field": "x", "type": "quantitative", "scale": {"domain": [0, 100], "nice": false}, "axis": {"title": "Stance phase (%)", "values": [0, 20, 40, 60, 80, 100], "titlePadding": 11}},
   "y": {"field": "y", "type": "quantitative", "scale": {"domain": [0, 2.5], "nice": false}, "axis": {"title": "Vertical GRF (% bodyweight)", "values": [0, 0.5, 1, 1.5, 2, 2.5]}},
   "stroke": {"field": "s", "type": "nominal", "scale": {"domain": ["D", "F"], "range": ["#d42020", "#1c1ca8"]}, "legend": null},
   "strokeDash": {"field": "s", "type": "nominal", "scale": {"domain": ["D", "F"], "range": [[4, 2.5], [1, 0]]}, "legend": null}}}
 ]},
{"width": 206, "height": 153, "data": {"name": "f"},
 "title": {"text": "(f)", "dx": 1, "offset": 3},
 "layer": [
 {"mark": {"type": "area", "interpolate": "monotone", "opacity": 0.35, "clip": true},
  "encoding": {
   "x": {"field": "x", "type": "quantitative", "scale": {"domain": [0, 100], "nice": false}, "axis": {"title": "Stance phase (%)", "values": [0, 20, 40, 60, 80, 100], "titlePadding": 10}},
   "y": {"field": "lo", "type": "quantitative", "scale": {"domain": [-0.4, 0.4], "nice": false}, "axis": {"title": "A-P GRF (% bodyweight)", "values": [-0.4, -0.2, 0, 0.2, 0.4], "labelPadding": 4}},
   "y2": {"field": "hi"},
   "fill": {"field": "s", "type": "nominal", "scale": {"domain": ["D", "F"], "range": ["#f06060", "#6a6af0"]}, "legend": null}}},
 {"mark": {"type": "line", "interpolate": "monotone", "strokeWidth": 1.8, "clip": true},
  "encoding": {
   "x": {"field": "x", "type": "quantitative", "scale": {"domain": [0, 100], "nice": false}, "axis": {"title": "Stance phase (%)", "values": [0, 20, 40, 60, 80, 100], "titlePadding": 10}},
   "y": {"field": "y", "type": "quantitative", "scale": {"domain": [-0.4, 0.4], "nice": false}, "axis": {"title": "A-P GRF (% bodyweight)", "values": [-0.4, -0.2, 0, 0.2, 0.4], "labelPadding": 4}},
   "stroke": {"field": "s", "type": "nominal", "scale": {"domain": ["D", "F"], "range": ["#d42020", "#1c1ca8"]}, "legend": null},
   "strokeDash": {"field": "s", "type": "nominal", "scale": {"domain": ["D", "F"], "range": [[4, 2.5], [1, 0]]}, "legend": null}}}
 ]}
], "spacing": 19}
],
"config": {
 "view": {"stroke": null},
 "axis": {"grid": false, "ticks": false, "domainColor": "#000", "labelColor": "#000", "titleColor": "#000", "labelFont": "Liberation Sans", "titleFont": "Liberation Sans", "labelFontSize": 10.5, "titleFontWeight": "normal", "labelPadding": 2, "labelFlush": false, "labelOverlap": false},
 "axisX": {"titleFontSize": 14},
 "axisY": {"titleFontSize": 12.5, "titlePadding": 3, "format": "~g", "labelExpr": "replace(datum.label, '−', '-')"},
 "title": {"font": "Liberation Sans", "fontSize": 20, "fontWeight": "normal", "color": "#000", "orient": "bottom", "anchor": "middle"}
}
}
